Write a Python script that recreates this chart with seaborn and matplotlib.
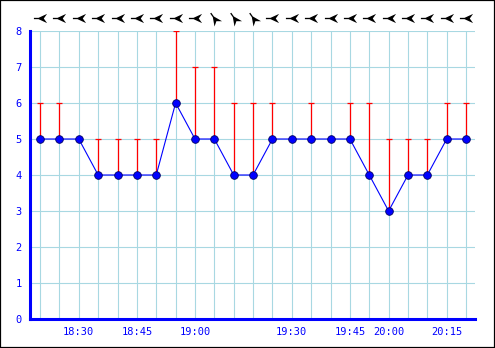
import numpy as np
import pandas as pd
import matplotlib
matplotlib.use("Agg")
import matplotlib.pyplot as plt
import seaborn as sns
from matplotlib.path import Path
from matplotlib.markers import MarkerStyle
from matplotlib.transforms import Affine2D
from matplotlib.patches import Rectangle

# ---- data ----
wind_mean = [5, 5, 5, 4, 4, 4, 4, 6, 5, 5, 4, 4, 5, 5, 5, 5, 5, 4, 3, 4, 4, 5, 5]
wind_gust = [6, 6, 5, 5, 5, 5, 5, 8, 7, 7, 6, 6, 6, 5, 6, 5, 6, 6, 5, 5, 5, 6, 6]
wind_from = [90, 90, 90, 90, 90, 90, 90, 90, 90, 145, 145, 145,
             90, 90, 90, 90, 90, 90, 90, 90, 90, 90, 90]
tick_pos = [2, 5, 8, 13, 16, 18, 21]
tick_labels = ["18:30", "18:45", "19:00", "19:30", "19:45", "20:00", "20:15"]
y_ticks = [0, 1, 2, 3, 4, 5, 6, 7, 8]

idx = list(range(len(wind_mean)))
df = pd.DataFrame({"i": idx, "mean": wind_mean, "gust": wind_gust})

sns.set_style("white")
plt.rcParams["font.family"] = ["DejaVu Sans Mono", "DejaVu Sans"]

W, H = 495, 348
fig = plt.figure(figsize=(W / 100, H / 100), dpi=100)
ax = fig.add_axes([30 / W, 29 / H, 445 / W, 288 / H])

BLUE = "#0000ff"
GRID = "#a8d8e2"

# grid
for i in idx:
    ax.axvline(i, color=GRID, lw=0.8, zorder=0)
for y in y_ticks[1:]:
    ax.axhline(y, color=GRID, lw=0.8, zorder=0)

# gust lines
g = df[df["gust"] > df["mean"]]
ax.vlines(g["i"], g["mean"], g["gust"], color="red", lw=0.9, zorder=2)
ax.scatter(g["i"], g["gust"], marker="_", s=16, color="red", linewidths=0.9, zorder=2)

# mean line + markers
sns.lineplot(data=df, x="i", y="mean", ax=ax, color=BLUE, lw=0.8, marker="o",
             markersize=5.5, markerfacecolor=BLUE, markeredgecolor="#000060",
             markeredgewidth=0.6, zorder=3)

# direction arrows
verts = [(1.0, 0.1), (0.3, 0.1), (-1.0, 0.7), (-0.5, 0.0), (-1.0, -0.7),
         (0.3, -0.1), (1.0, -0.1), (1.0, 0.1)]
codes = [Path.MOVETO] + [Path.LINETO] * 6 + [Path.CLOSEPOLY]
dart = Path(verts, codes)
for i, d in zip(idx, wind_from):
    ang = 90 - (d + 180)
    m = MarkerStyle(dart, transform=Affine2D().rotate_deg(ang))
    ax.scatter([i], [8.37], marker=m, s=90, color="black", linewidths=0,
               clip_on=False, zorder=5)

ax.set_xlim(-0.52, 22.46)
ax.set_ylim(0, 8)
ax.set_xticks(tick_pos)
ax.set_xticklabels(tick_labels)
ax.set_yticks(y_ticks)
ax.set_xlabel("")
ax.set_ylabel("")

for s in ["top", "right"]:
    ax.spines[s].set_visible(False)
for s in ["left", "bottom"]:
    ax.spines[s].set_color(BLUE)
    ax.spines[s].set_linewidth(2.2)
    ax.spines[s].set_zorder(6)

ax.tick_params(axis="y", direction="in", length=3.5, width=1.2, color=BLUE,
               labelcolor=BLUE, labelsize=7.5, pad=6)
ax.tick_params(axis="x", direction="in", length=3.5, width=1.2, color=BLUE,
               labelcolor=BLUE, labelsize=7.5, pad=6)
ax.set_xticks(idx, minor=True)
ax.tick_params(axis="x", which="minor", direction="in", length=3.5, width=1.2, color=BLUE)

fig.patches.append(Rectangle((0, 0), 1, 1, transform=fig.transFigure, fill=False,
                             edgecolor="black", lw=1.6))

fig.savefig("out.png", dpi=100)
